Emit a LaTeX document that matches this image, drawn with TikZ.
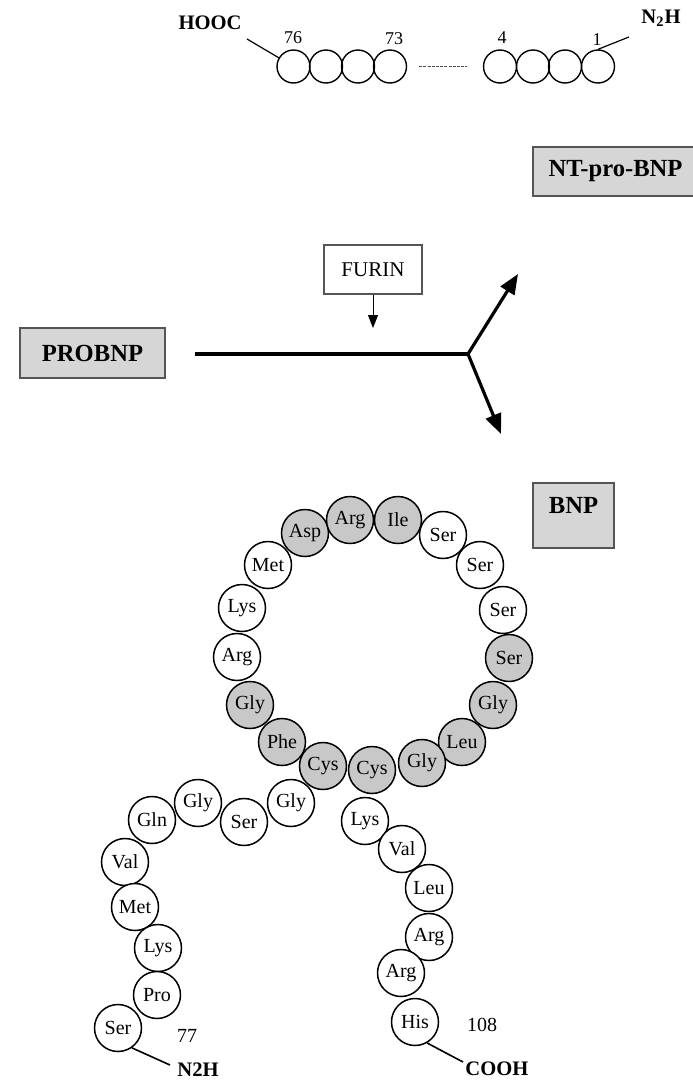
\documentclass[tikz,border=0pt]{standalone}
\usepackage{fontspec}
\setmainfont{Liberation Serif}
\usetikzlibrary{arrows.meta}
\definecolor{boxgray}{RGB}{214,214,214}
\definecolor{aagray}{RGB}{200,200,200}
\definecolor{edgegray}{RGB}{85,85,85}
\begin{document}
\begin{tikzpicture}[x=0.5pt,y=-0.5pt,
  aa/.style={circle,draw,fill=white,line width=0.75pt,minimum size=23.5pt,inner sep=0pt,font=\fontsize{10}{10}\selectfont},
  aas/.style={aa,fill=aagray},
  ntc/.style={circle,draw,line width=0.7pt,minimum size=16.5pt,inner sep=0pt},
  num/.style={inner sep=0pt,font=\fontsize{9}{9}\selectfont},
  endlabel/.style={inner sep=0pt,font=\fontsize{10.3}{11}\selectfont\bfseries},
  graybox/.style={draw=edgegray,line width=0.6pt,fill=boxgray,font=\fontsize{12.3}{13}\selectfont\bfseries,inner sep=0pt},
  bond/.style={line width=0.6pt},
  dotline/.style={line width=0.5pt,dash pattern=on 1.5pt off 0.6pt,draw=black!70}
]
\useasboundingbox (0,0) rectangle (692,1082);

% ---------- NT-pro-BNP chain ----------
\node[ntc] (c76) at (293.5,66.5) {};
\node[ntc] (c75) at (326,66.5) {};
\node[ntc] (c74) at (358,66.5) {};
\node[ntc] (c73) at (390,66.5) {};
\node[ntc] (c4) at (500,66.5) {};
\node[ntc] (c3) at (533,66.5) {};
\node[ntc] (c2) at (565,66.5) {};
\node[ntc] (c1) at (598,66.5) {};
\draw[dotline,shorten <=6pt,shorten >=8pt] (c73) -- (c4);
\node[num] (l76) at (293,38) {76};
\node[num] (l73) at (394,39) {73};
\node[num] (l4) at (502,38) {4};
\node[num] (l1) at (597,40) {1};
\node[endlabel] (hooc) at (210,23) {HOOC};
\node[endlabel] (n2htop) at (661,18) {N\textsubscript{2}H};
\coordinate (hoocend) at (247,39);
\coordinate (n2hend) at (629,37);
\draw[bond] (hoocend) -- (c76);
\draw[bond] (c1.north) -- (n2hend);

% ---------- boxes ----------
\node[graybox,minimum width=82.5pt,minimum height=24.5pt] (ntpro) at (615.5,171.5) {NT-pro-BNP};
\node[graybox,minimum width=72.5pt,minimum height=25pt] (probnp) at (92.5,353) {PROBNP};
\node[graybox,minimum width=40.5pt,text height=15pt,text depth=17.5pt,anchor=base] (bnp) at (573.5,513) {BNP};
\node[draw=edgegray,line width=0.6pt,minimum width=49pt,minimum height=24.5pt,inner sep=0pt,font=\fontsize{10.5}{11}\selectfont] (furin) at (373,269.5) {FURIN};

% ---------- cleavage arrows ----------
\coordinate (cut) at (373,328);
\coordinate (start) at (195,354);
\coordinate (split) at (468,354);
\coordinate (ntarrow) at (518,274);
\coordinate (bnparrow) at (501,434);
\draw[line width=0.5pt,-{Triangle[length=6.5pt,width=5pt]}] (furin.south) -- (cut);
\draw[line width=2pt] (start) -- (split);
\draw[line width=1.6pt,-{Triangle[length=10pt,width=8pt]}] (split) -- (ntarrow);
\draw[line width=1.6pt,-{Triangle[length=10pt,width=8pt]}] (split) -- (bnparrow);

% ---------- BNP ring ----------
\node[aa]  (met1) at (268,565) {Met};
\node[aas] (asp) at (305,533) {Asp};
\node[aas] (arg1) at (350,520) {Arg};
\node[aas] (ile) at (398,520) {Ile};
\node[aa]  (ser1) at (443,535) {Ser};
\node[aa]  (ser2) at (480,565) {Ser};
\node[aa]  (ser3) at (503,610) {Ser};
\node[aas] (ser4) at (509,658) {Ser};
\node[aas] (gly1) at (493,705) {Gly};
\node[aas] (leu1) at (462,742) {Leu};
\node[aas] (gly2) at (422,763) {Gly};
\node[aas] (cys2) at (372,770) {Cys};
\node[aa]  (lys1) at (242,608) {Lys};
\node[aa]  (arg2) at (237,657) {Arg};
\node[aas] (gly3) at (250,705) {Gly};
\node[aas] (phe) at (282,742) {Phe};
\node[aas] (cys1) at (323,766) {Cys};

% ---------- N-terminal tail ----------
\node[aa] (gly4) at (291,803) {Gly};
\node[aa] (ser5) at (244,822) {Ser};
\node[aa] (gly5) at (198,803) {Gly};
\node[aa] (gln) at (152,820) {Gln};
\node[aa] (val1) at (125,862) {Val};
\node[aa] (met2) at (135,907) {Met};
\node[aa] (lys2) at (158,948) {Lys};
\node[aa] (pro) at (157,995) {Pro};
\node[aa] (ser6) at (118,1028) {Ser};
\node[inner sep=0pt,font=\fontsize{10}{10}\selectfont] (n77) at (187,1036) {77};
\coordinate (n2hbond) at (170,1065);
\draw[bond,line width=0.8pt] (ser6.-55) -- (n2hbond);
\node[endlabel,anchor=west] (n2hbot) at (177,1070) {N2H};

% ---------- C-terminal tail ----------
\node[aa] (lys3) at (365,821) {Lys};
\node[aa] (val2) at (402,849) {Val};
\node[aa] (leu2) at (429,888) {Leu};
\node[aa] (arg3) at (429,937) {Arg};
\node[aa] (arg4) at (401,973) {Arg};
\node[aa] (his) at (415,1022) {His};
\node[inner sep=0pt,font=\fontsize{10}{10}\selectfont] (n108) at (482,1025) {108};
\coordinate (coohbond) at (463,1062);
\draw[bond,line width=0.8pt] (his.-60) -- (coohbond);
\node[endlabel,anchor=west] (cooh) at (465,1069) {COOH};
\end{tikzpicture}
\end{document}
